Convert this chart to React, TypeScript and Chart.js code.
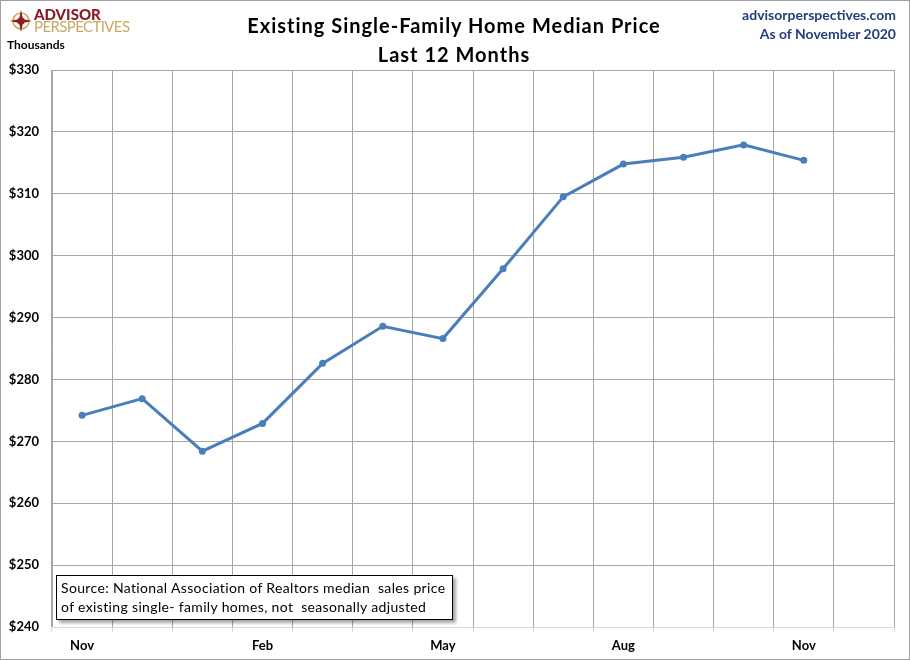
import React, { useEffect, useRef } from "react";
import { Chart, registerables } from "chart.js";

Chart.register(...registerables);

const months = ["Nov", "Dec", "Jan", "Feb", "Mar", "Apr", "May", "Jun", "Jul", "Aug", "Sep", "Oct", "Nov", ""];
const prices = [274.2, 276.9, 268.4, 272.9, 282.6, 288.6, 286.6, 297.9, 309.5, 314.8, 315.9, 317.9, 315.4];
const yTicks = { min: 240, max: 330, step: 10 };

const FONT = "Lato, 'Open Sans', sans-serif";

export default function App() {
  const ref = useRef<HTMLCanvasElement | null>(null);

  useEffect(() => {
    document.body.style.margin = "0";
    const ctx = ref.current!;
    const chart = new Chart(ctx, {
      type: "line",
      data: {
        labels: months,
        datasets: [
          {
            data: prices,
            borderColor: "#4a7ebb",
            backgroundColor: "#4a7ebb",
            borderWidth: 3,
            pointRadius: 3.5,
            pointBackgroundColor: "#4a7ebb",
            pointBorderWidth: 0,
            tension: 0,
          },
        ],
      },
      options: {
        animation: false,
        responsive: false,
        devicePixelRatio: 1,
        layout: { padding: { top: 70, right: 16, bottom: 0, left: 0 } },
        plugins: { legend: { display: false }, tooltip: { enabled: false }, title: { display: false } },
        scales: {
          x: {
            offset: true,
            grid: { offset: true, color: "#a6a6a6", lineWidth: 1, tickColor: "#d9d9d9", tickLength: 5, drawTicks: true },
            border: { display: true, color: "#d9d9d9", z: 1 },
            ticks: {
              autoSkip: false,
              maxRotation: 0,
              padding: 6,
              color: "#000",
              font: { family: FONT, size: 13, weight: "bold" },
              callback: (_v: any, i: number) => (i % 3 === 0 ? months[i] : ""),
            },
            afterFit: (s: any) => {
              s.height = 33;
            },
          },
          y: {
            min: yTicks.min,
            max: yTicks.max,
            grid: { color: "#a6a6a6", lineWidth: 1, drawTicks: false },
            border: { display: true, color: "#a6a6a6" },
            ticks: {
              stepSize: yTicks.step,
              padding: 13,
              color: "#000",
              font: { family: FONT, size: 13, weight: "bold" },
              callback: (v: any) => "$" + v,
            },
            afterFit: (s: any) => {
              s.width = 52;
            },
          },
        },
      },
    });
    return () => chart.destroy();
  }, []);

  return (
    <div style={{ position: "absolute", left: 0, top: 0, width: 910, height: 660, background: "#fff", fontFamily: FONT }}>
      <canvas ref={ref} width={910} height={660} style={{ position: "absolute", left: 0, top: 0, width: 910, height: 660 }} />
      <div style={{ position: "absolute", left: 0, top: 0, width: 908, height: 658, border: "1px solid #a0a0a0", pointerEvents: "none" }} />
      {/* logo */}
      <svg width="22" height="22" viewBox="-11 -11 22 22" style={{ position: "absolute", left: 10, top: 10 }}>
        <circle r="8" fill="none" stroke="#c8a864" strokeWidth="1.6" />
        <polygon points="0,-11 2,-2 11,0 2,2 0,11 -2,2 -11,0 -2,-2" fill="#8b1c24" />
        <polygon points="0,-5 1.2,-1.2 5,0 1.2,1.2 0,5 -1.2,1.2 -5,0 -1.2,-1.2" fill="#8b1c24" transform="rotate(45)" />
      </svg>
      <div style={{ position: "absolute", left: 34, top: 7, fontSize: 15, fontWeight: 900, color: "#8b1c24", lineHeight: "15px", letterSpacing: 0 }}>
        ADVISOR
      </div>
      <div style={{ position: "absolute", left: 34, top: 19, fontSize: 15, fontWeight: 400, color: "#c8a864", lineHeight: "15px", letterSpacing: -0.6 }}>
        PERSPECTIVES
      </div>
      <div style={{ position: "absolute", left: 7, top: 37, fontSize: 12, fontWeight: 700, color: "#000", lineHeight: "16px" }}>Thousands</div>
      {/* title */}
      <div style={{ position: "absolute", left: 0, top: 11, width: 908, textAlign: "center", fontSize: 20, fontWeight: 700, color: "#000", lineHeight: "29px", letterSpacing: 1 }}>
        <div>Existing Single-Family Home Median Price</div>
        <div>Last 12 Months</div>
      </div>
      {/* right info */}
      <div style={{ position: "absolute", right: 14, top: 5, textAlign: "right", fontSize: 14, fontWeight: 700, color: "#243f7a", lineHeight: "19px" }}>
        <div>advisorperspectives.com</div>
        <div>As of November 2020</div>
      </div>
      {/* source box */}
      <div
        style={{
          position: "absolute",
          left: 56,
          top: 575,
          width: 391,
          height: 41,
          padding: "0 0 0 4px",
          border: "1px solid #000",
          background: "#fff",
          boxShadow: "3px 3px 3px rgba(0,0,0,0.35)",
          fontSize: 14,
          color: "#000",
          lineHeight: "19px",
          paddingTop: 2,
          boxSizing: "content-box",
          letterSpacing: 0.35,
          whiteSpace: "nowrap",
        }}
      >
        <div>Source: National Association of Realtors median&nbsp; sales price</div>
        <div>of existing single- family homes, not&nbsp; seasonally adjusted</div>
      </div>
    </div>
  );
}
